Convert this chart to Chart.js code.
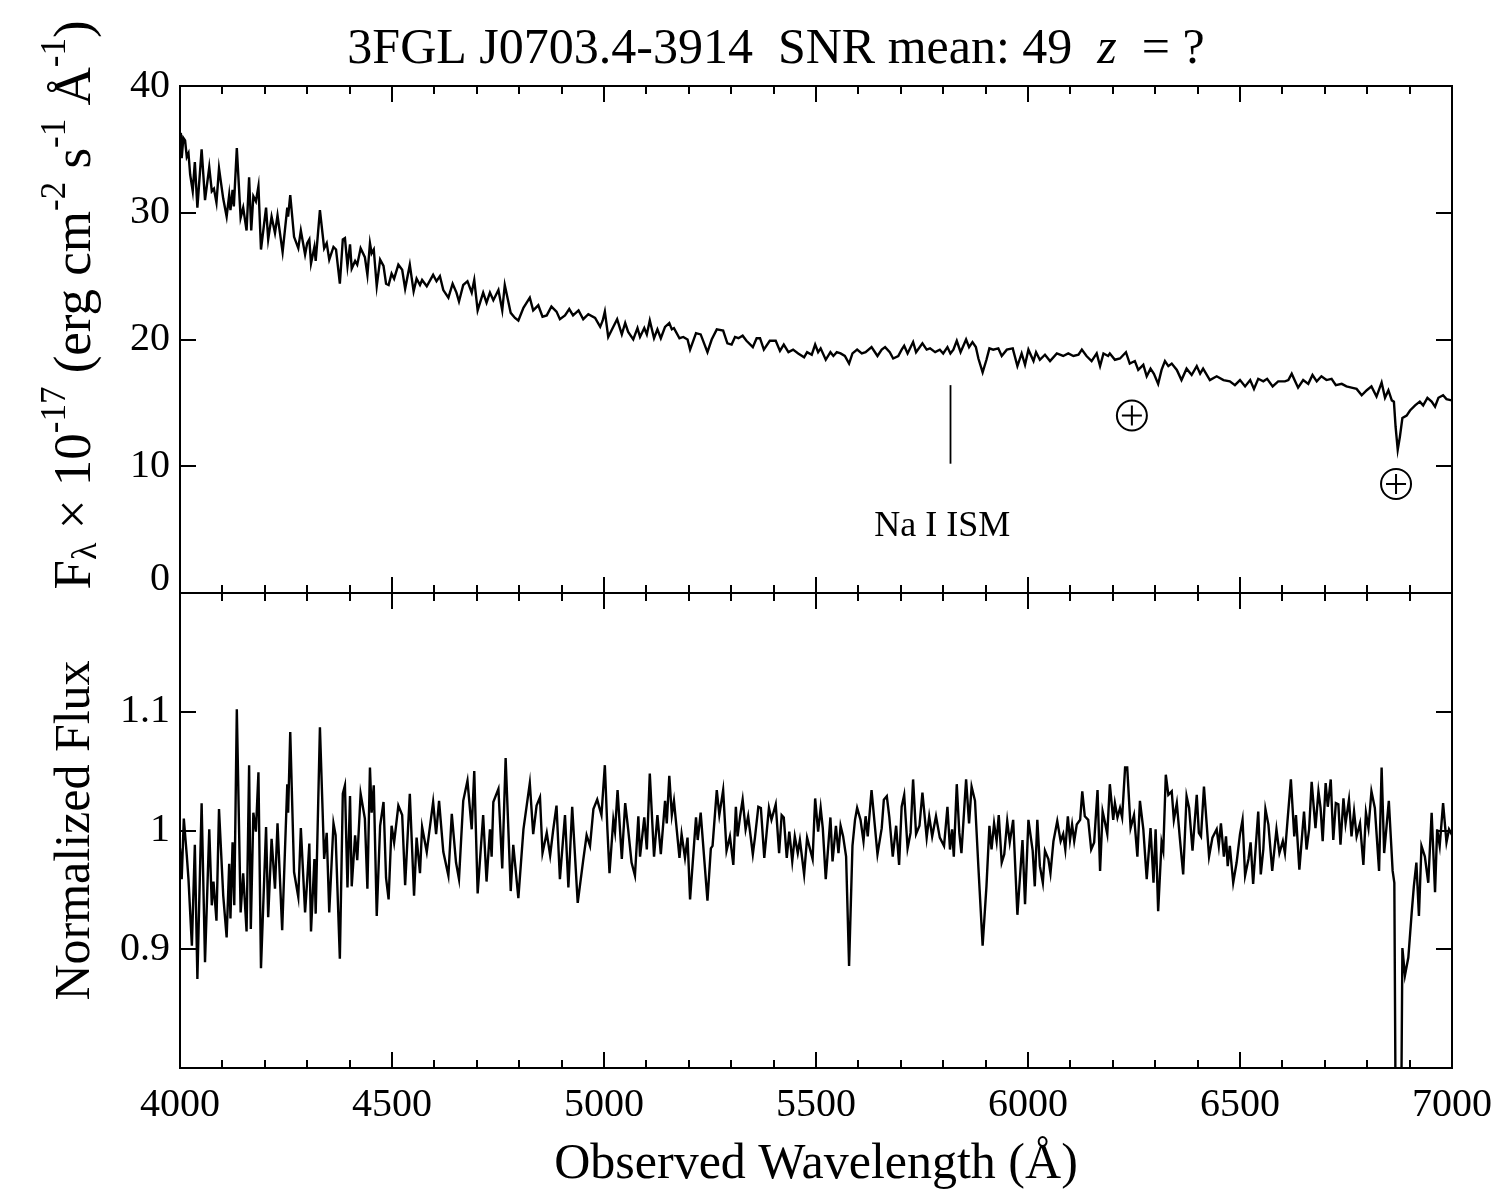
<!DOCTYPE html>
<html><head><meta charset="utf-8">
<script src="https://cdn.jsdelivr.net/npm/chart.js@4.4.0/dist/chart.umd.min.js"></script>
<style>
html,body{margin:0;padding:0;background:#fff;width:1500px;height:1200px;overflow:hidden;}
#cTop{position:absolute;left:0;top:0;}
#cBot{position:absolute;left:0;top:570px;}
</style></head><body>
<canvas id="cTop" width="1500" height="620"></canvas>
<canvas id="cBot" width="1500" height="630"></canvas>
<script>
// ---------- DATA ----------
const fluxWave = [4000,4002,4004,4008,4012,4016,4020,4024,4030,4035,4041,4051,4059,4069,4075,4080,4086,4092,4102,4110,4116,4119,4124,4127,4134,4143,4149,4157,4163,4168,4173,4179,4185,4191,4203,4208,4216,4224,4230,4242,4253,4255,4260,4269,4279,4285,4295,4300,4305,4309,4317,4320,4330,4340,4346,4352,4362,4368,4377,4384,4389,4395,4401,4405,4413,4418,4426,4436,4442,4448,4452,4457,4464,4472,4480,4486,4492,4499,4505,4515,4524,4531,4542,4551,4558,4566,4571,4582,4597,4605,4613,4621,4633,4643,4652,4658,4668,4678,4688,4694,4702,4715,4723,4731,4739,4751,4760,4766,4780,4790,4798,4810,4825,4833,4845,4855,4865,4876,4888,4896,4908,4918,4927,4940,4951,4963,4979,4991,4997,5002,5010,5022,5031,5042,5050,5057,5069,5079,5085,5095,5101,5108,5118,5126,5134,5144,5154,5160,5165,5178,5187,5197,5203,5217,5228,5244,5254,5266,5281,5291,5301,5309,5317,5327,5336,5351,5360,5368,5377,5391,5405,5415,5424,5435,5446,5458,5472,5479,5490,5498,5505,5511,5523,5534,5541,5549,5558,5568,5578,5586,5597,5608,5617,5631,5645,5655,5663,5674,5682,5694,5702,5708,5716,5729,5736,5751,5761,5769,5781,5792,5800,5810,5817,5824,5832,5841,5854,5861,5869,5877,5883,5893,5902,5909,5918,5930,5938,5950,5964,5975,5985,5993,6001,6013,6019,6028,6040,6052,6068,6083,6095,6107,6119,6127,6138,6150,6162,6170,6178,6189,6193,6205,6217,6231,6240,6252,6260,6272,6280,6289,6297,6307,6315,6323,6331,6339,6351,6362,6374,6386,6398,6406,6413,6429,6445,6461,6476,6488,6500,6512,6524,6533,6543,6555,6564,6577,6590,6606,6614,6622,6630,6637,6649,6661,6671,6681,6692,6704,6716,6726,6740,6751,6763,6775,6787,6799,6810,6822,6834,6842,6850,6858,6863,6867,6872,6877,6883,6893,6901,6913,6924,6932,6942,6952,6960,6968,6979,6987,6999,7000];
const fluxValue = [35.0,36.3,34.3,35.9,35.7,34.4,34.7,33.0,31.7,34.0,30.4,35.0,31.0,33.6,31.7,31.9,30.8,33.5,31.1,29.7,31.4,30.2,31.8,30.5,35.1,29.6,30.4,28.6,32.8,28.6,31.3,30.9,32.1,27.1,30.4,27.9,29.7,28.4,29.8,26.9,30.4,29.7,31.4,28.1,27.2,28.6,26.7,27.6,27.9,26.0,27.3,26.2,30.2,27.2,27.6,26.3,27.3,27.1,24.4,27.9,28.0,25.8,27.5,25.6,26.2,25.9,27.2,26.5,25.1,27.6,26.8,27.1,24.2,26.3,25.8,24.4,24.3,25.2,24.8,25.9,25.5,24.0,25.9,23.8,24.8,24.3,24.7,24.2,25.1,24.6,25.0,23.9,23.3,24.4,23.7,23.0,24.3,24.6,23.7,24.7,22.3,23.7,22.9,23.7,23.1,23.9,22.3,24.3,22.1,21.7,21.5,22.5,23.3,22.3,22.7,21.8,21.9,22.6,22.2,21.6,21.9,22.4,21.9,22.3,21.6,22.0,21.7,21.0,21.5,22.2,20.2,21.0,21.6,20.4,21.3,20.6,20.0,20.9,20.2,20.9,20.4,21.5,20.1,20.8,20.1,21.0,21.3,20.8,20.9,20.1,20.2,20.0,19.2,20.5,20.4,19.0,20.0,20.8,20.7,19.7,19.6,20.2,20.1,20.3,19.9,19.4,20.1,20.1,19.2,19.9,19.9,19.1,19.6,19.0,19.2,18.9,18.6,19.0,18.8,19.6,19.0,19.3,18.4,19.0,18.7,19.0,18.9,18.7,18.1,18.9,19.2,18.9,19.0,19.4,18.7,19.2,19.4,19.0,18.5,18.7,19.2,19.5,18.9,19.8,19.0,19.7,19.2,19.3,19.0,19.2,18.9,19.4,18.9,19.2,19.9,19.0,20.0,19.4,19.8,19.4,18.5,17.4,18.4,19.3,19.2,19.3,18.7,19.2,19.3,17.9,18.9,18.0,19.2,18.3,19.0,18.4,18.8,18.3,18.9,18.7,18.9,18.7,18.8,19.2,18.7,18.3,18.9,17.9,18.9,18.7,18.9,18.4,18.5,19.0,18.1,18.3,17.6,18.0,17.1,17.7,17.3,16.5,17.6,18.3,17.9,18.1,17.6,16.8,17.7,17.2,17.9,17.3,17.7,16.8,17.1,16.8,16.7,16.4,16.8,16.3,16.8,16.1,16.9,16.7,16.9,16.3,16.7,16.7,16.8,17.3,16.7,16.2,16.8,16.5,17.2,16.7,17.1,16.8,16.9,16.4,16.5,16.3,16.2,16.1,15.6,16.0,16.3,15.5,16.6,15.4,16.0,15.2,15.1,13.1,11.3,12.3,13.8,14.0,14.4,14.8,15.1,14.8,15.4,15.1,14.7,15.4,15.6,15.3,15.2,15.2];

const normWave = [4000,4004,4009,4016,4020,4028,4035,4041,4051,4059,4069,4075,4079,4086,4092,4102,4110,4116,4119,4124,4128,4134,4143,4149,4157,4163,4167,4173,4179,4185,4191,4203,4208,4216,4224,4230,4241,4253,4255,4260,4269,4279,4285,4295,4300,4305,4309,4317,4320,4330,4340,4346,4352,4362,4367,4377,4384,4389,4395,4401,4405,4413,4418,4426,4436,4442,4448,4452,4457,4464,4472,4480,4486,4492,4499,4505,4515,4524,4531,4542,4552,4558,4566,4571,4582,4588,4597,4604,4611,4621,4633,4641,4651,4658,4668,4678,4688,4694,4702,4715,4723,4731,4735,4739,4751,4760,4768,4780,4786,4798,4810,4825,4833,4841,4849,4855,4865,4873,4880,4888,4896,4908,4916,4925,4938,4951,4959,4967,4975,4984,4994,5002,5008,5013,5022,5026,5032,5042,5050,5057,5065,5073,5081,5085,5095,5101,5108,5118,5126,5134,5144,5148,5154,5160,5165,5178,5183,5191,5197,5203,5217,5221,5228,5244,5252,5256,5266,5272,5281,5289,5297,5305,5311,5315,5321,5327,5334,5340,5351,5356,5364,5370,5378,5389,5395,5405,5413,5419,5424,5431,5437,5444,5450,5457,5462,5472,5479,5492,5498,5505,5511,5516,5523,5534,5539,5547,5553,5558,5564,5571,5578,5586,5592,5597,5605,5612,5617,5622,5631,5645,5655,5660,5667,5673,5681,5689,5696,5702,5708,5716,5723,5729,5736,5744,5751,5761,5767,5774,5783,5792,5802,5810,5816,5821,5825,5832,5838,5843,5854,5861,5867,5875,5883,5893,5902,5909,5914,5920,5926,5931,5938,5944,5951,5957,5965,5975,5987,5993,6001,6011,6016,6022,6028,6035,6040,6048,6053,6060,6069,6077,6083,6088,6094,6099,6104,6109,6115,6123,6128,6134,6142,6149,6156,6164,6170,6176,6182,6187,6193,6201,6205,6211,6217,6222,6229,6234,6242,6250,6258,6264,6272,6280,6289,6296,6301,6307,6315,6319,6325,6331,6339,6344,6351,6358,6366,6374,6380,6388,6398,6403,6408,6415,6427,6435,6445,6450,6455,6462,6467,6471,6476,6484,6492,6500,6506,6512,6520,6525,6531,6543,6549,6555,6560,6567,6576,6586,6593,6601,6606,6612,6620,6628,6632,6640,6651,6657,6663,6669,6678,6685,6690,6695,6702,6707,6714,6720,6726,6732,6737,6744,6749,6757,6763,6769,6775,6783,6791,6797,6803,6810,6818,6828,6834,6840,6851,6860,6864,6868,6879,6883,6889,6897,6905,6910,6916,6922,6928,6936,6944,6952,6960,6965,6971,6979,6987,6993,6999,7000];
const normValue = [0.985,0.959,1.010,0.979,0.959,0.903,0.988,0.875,1.023,0.889,1.001,0.937,0.957,0.924,1.018,0.945,0.910,0.972,0.926,0.990,0.937,1.102,0.931,0.964,0.915,1.055,0.917,1.015,0.999,1.049,0.884,1.003,0.927,0.993,0.951,1.006,0.916,1.039,1.015,1.083,0.965,0.944,1.002,0.931,0.958,0.989,0.915,0.976,0.930,1.087,0.976,0.998,0.931,1.006,0.996,0.892,1.031,1.038,0.952,1.029,0.953,0.996,0.975,1.031,1.010,0.951,1.053,1.015,1.038,0.928,1.004,1.024,0.960,0.942,1.004,0.990,1.021,1.013,0.954,1.031,0.945,0.994,0.964,1.003,0.982,0.999,1.024,0.997,1.025,0.982,0.962,1.014,0.973,0.959,1.025,1.042,1.001,1.050,0.947,1.013,0.957,1.001,0.978,1.024,1.035,0.968,1.061,0.949,0.988,0.943,1.001,1.040,0.997,1.021,1.028,0.981,0.998,0.979,1.000,1.021,0.959,1.013,0.952,1.020,0.939,0.975,0.996,0.987,1.018,1.026,1.013,1.055,1.001,0.964,1.009,0.999,1.034,0.976,1.023,1.001,0.973,0.962,1.012,0.978,1.011,0.984,1.048,0.978,1.013,0.980,1.025,1.006,1.046,1.013,1.025,0.977,0.997,0.977,0.994,0.942,1.011,0.992,1.015,0.941,0.985,0.987,1.034,1.013,1.034,0.983,0.995,0.971,1.020,0.995,1.012,1.026,1.001,1.012,0.980,0.994,1.020,1.019,0.977,1.019,1.009,1.022,0.981,1.013,1.011,0.977,0.999,0.974,0.995,0.981,0.992,0.963,0.994,0.976,1.027,0.999,1.019,1.002,0.959,1.011,0.974,1.004,0.981,1.004,0.995,0.978,0.886,0.987,1.009,1.019,1.009,0.991,1.012,0.995,1.034,0.980,1.002,1.026,1.029,1.011,0.978,1.004,0.971,1.020,1.030,0.985,0.998,1.043,0.997,1.004,1.032,0.994,1.012,0.995,1.012,0.994,0.987,1.020,0.984,1.001,0.978,1.039,0.998,0.981,1.043,1.006,1.037,1.025,0.969,0.903,0.953,1.004,0.984,1.006,0.991,1.013,0.973,0.980,1.008,0.990,1.009,0.929,0.992,0.938,1.009,0.983,0.953,1.009,0.970,0.956,0.983,0.976,0.964,0.991,1.008,0.991,0.997,0.984,1.012,0.992,1.005,0.991,1.005,1.009,1.033,1.012,1.009,0.984,0.990,1.034,0.966,1.016,1.006,0.997,1.039,1.009,1.023,1.011,1.019,1.011,1.053,1.053,1.002,1.013,0.978,1.025,1.001,0.959,1.002,0.956,1.001,0.932,0.990,0.983,1.047,1.030,1.033,1.009,1.023,0.994,0.963,1.029,1.019,0.983,1.030,0.998,0.995,1.037,0.978,0.994,1.001,0.987,1.006,0.978,0.995,0.970,0.987,0.956,0.973,0.997,1.009,0.962,0.976,0.990,0.955,1.016,0.963,0.984,1.018,1.005,0.966,1.001,0.981,0.991,0.981,1.008,1.043,0.995,1.013,0.967,1.016,0.984,1.001,1.041,1.002,1.033,1.019,0.991,1.040,1.020,1.043,0.992,1.023,1.022,0.988,1.027,1.006,1.026,0.995,1.016,0.995,1.006,0.971,1.015,1.002,1.033,1.019,0.966,1.053,0.981,1.025,0.966,0.956,0.700,0.700,0.901,0.878,0.893,0.931,0.953,0.973,0.928,0.987,0.978,0.956,1.015,0.948,1.001,0.987,1.023,0.990,1.001,0.997,1.000];

const xTicks = [4000,4500,5000,5500,6000,6500,7000];
const xTickLabels = ['4000','4500','5000','5500','6000','6500','7000'];
const fluxTicks = [0,10,20,30,40];
const fluxTickLabels = ['0','10','20','30','40'];
const normTicks = [0.9,1.0,1.1];
const normTickLabels = ['0.9','1','1.1'];
const naMarker = {wave:5816, from:10.2, to:16.4, label:'Na I ISM', labelWave:5798, labelFlux:4.5};
const tellurics = [{wave:6245, flux:14.0},{wave:6868, flux:8.6}];
const titleParts = [
  {text:'3FGL J0703.4-3914  SNR mean: 49  ', italic:false},
  {text:'z', italic:true},
  {text:'  = ?', italic:false}
];
const xTitle = 'Observed Wavelength (Å)';
const normTitle = 'Normalized Flux';
const fluxTitleParts = [
  {t:'F', s:'main'}, {t:'λ', s:'sub'}, {t:' × 10', s:'main'}, {t:'-17', s:'sup'},
  {t:' (erg cm', s:'main'}, {t:'-2', s:'sup'}, {t:' s', s:'main'}, {t:'-1', s:'sup'},
  {t:' Å', s:'main'}, {t:'-1', s:'sup'}, {t:')', s:'main'}
];

// ---------- STYLE ----------
const FONT = '"Liberation Serif", "Times New Roman", serif';
const TICK_SIZE = 40;
const TITLE_SIZE = 50;
const AXIS_TITLE_SIZE = 50;
const LINE_W = 2.4;

function drawFrameAndTicks(chart, yTickValues) {
  const {ctx, chartArea: a, scales} = chart;
  const xs = scales.x, ys = scales.y;
  ctx.save();
  ctx.strokeStyle = '#000';
  ctx.lineWidth = 2;
  ctx.strokeRect(a.left, a.top, a.right - a.left, a.bottom - a.top);
  ctx.beginPath();
  for (let w = 4100; w < 7000; w += 100) {
    const px = Math.round(xs.getPixelForValue(w));
    const L = (w % 500 === 0) ? 16 : 8;
    ctx.moveTo(px, a.top); ctx.lineTo(px, a.top + L);
    ctx.moveTo(px, a.bottom); ctx.lineTo(px, a.bottom - L);
  }
  for (const v of yTickValues) {
    const py = Math.round(ys.getPixelForValue(v));
    if (py <= a.top + 1 || py >= a.bottom - 1) continue;
    ctx.moveTo(a.left, py); ctx.lineTo(a.left + 16, py);
    ctx.moveTo(a.right, py); ctx.lineTo(a.right - 16, py);
  }
  ctx.stroke();
  ctx.restore();
}

const topPlugin = {
  id: 'topDecor',
  afterDraw(chart) {
    const {ctx, scales} = chart;
    const xs = scales.x, ys = scales.y;
    drawFrameAndTicks(chart, fluxTicks);
    ctx.save();
    ctx.fillStyle = '#000'; ctx.strokeStyle = '#000';
    // Na I marker
    const nx = Math.round(xs.getPixelForValue(naMarker.wave)) + 0.5;
    ctx.lineWidth = 1.8;
    ctx.beginPath();
    ctx.moveTo(nx, ys.getPixelForValue(naMarker.to));
    ctx.lineTo(nx, ys.getPixelForValue(naMarker.from));
    ctx.stroke();
    ctx.font = '36px ' + FONT;
    ctx.textAlign = 'center'; ctx.textBaseline = 'alphabetic';
    ctx.fillText(naMarker.label, xs.getPixelForValue(naMarker.labelWave), ys.getPixelForValue(naMarker.labelFlux));
    // telluric symbols
    ctx.lineWidth = 2;
    for (const t of tellurics) {
      const cx = xs.getPixelForValue(t.wave), cy = ys.getPixelForValue(t.flux);
      ctx.beginPath(); ctx.arc(cx, cy, 15, 0, Math.PI * 2); ctx.stroke();
      ctx.beginPath();
      ctx.moveTo(cx - 10, cy); ctx.lineTo(cx + 10, cy);
      ctx.moveTo(cx, cy - 10); ctx.lineTo(cx, cy + 10);
      ctx.stroke();
    }
    // title
    ctx.textAlign = 'left'; ctx.textBaseline = 'alphabetic';
    let total = 0;
    for (const p of titleParts) {
      ctx.font = (p.italic ? 'italic ' : '') + TITLE_SIZE + 'px ' + FONT;
      total += ctx.measureText(p.text).width;
    }
    let x = 776 - total / 2;
    for (const p of titleParts) {
      ctx.font = (p.italic ? 'italic ' : '') + TITLE_SIZE + 'px ' + FONT;
      ctx.fillText(p.text, x, 63);
      x += ctx.measureText(p.text).width;
    }
    // y axis title (rotated, with super/subscripts)
    const sizes = {main: 53, sub: 36, sup: 35};
    const rises = {main: 0, sub: -6, sup: 25};
    let len = 0;
    for (const p of fluxTitleParts) { ctx.font = sizes[p.s] + 'px ' + FONT; len += ctx.measureText(p.t).width; }
    ctx.translate(90, 305 + len / 2);
    ctx.rotate(-Math.PI / 2);
    let tx = 0;
    for (const p of fluxTitleParts) {
      ctx.font = sizes[p.s] + 'px ' + FONT;
      ctx.fillText(p.t, tx, -rises[p.s]);
      tx += ctx.measureText(p.t).width;
    }
    ctx.restore();
  }
};

const botPlugin = {
  id: 'botDecor',
  afterDraw(chart) {
    const {ctx, chartArea: a} = chart;
    drawFrameAndTicks(chart, normTicks);
    ctx.save();
    ctx.fillStyle = '#000';
    ctx.font = AXIS_TITLE_SIZE + 'px ' + FONT;
    ctx.textAlign = 'center'; ctx.textBaseline = 'alphabetic';
    ctx.translate(89, (a.top + a.bottom) / 2);
    ctx.rotate(-Math.PI / 2);
    ctx.fillText(normTitle, 0, 0);
    ctx.restore();
  }
};

function noPad(s) { s.paddingLeft = 0; s.paddingRight = 0; s.paddingTop = 0; s.paddingBottom = 0; }

const xScaleBase = {
  type: 'linear', min: 4000, max: 7000,
  grid: {display: false, drawTicks: false}, border: {display: false},
  afterBuildTicks: s => { s.ticks = xTicks.map(v => ({value: v})); }
};

new Chart(document.getElementById('cTop'), {
  type: 'line',
  data: {datasets: [{
    data: fluxWave.map((w, i) => ({x: w, y: fluxValue[i]})),
    borderColor: '#000', borderWidth: LINE_W, pointRadius: 0, tension: 0, fill: false
  }]},
  options: {
    responsive: false, animation: false, events: [],
    layout: {padding: {top: 86, right: 48, bottom: 27, left: 0}},
    plugins: {legend: {display: false}, tooltip: {enabled: false}, title: {display: false}},
    scales: {
      x: Object.assign({}, xScaleBase, {display: false}),
      y: {
        type: 'linear', min: 0, max: 40,
        grid: {display: false, drawTicks: false}, border: {display: false},
        afterBuildTicks: s => { s.ticks = fluxTicks.map(v => ({value: v})); },
        afterFit: s => { s.width = 180; noPad(s); },
        ticks: {
          padding: 10, color: '#000',
          font: {family: FONT, size: TICK_SIZE, lineHeight: 0.7},
          callback: v => { const l = fluxTickLabels[fluxTicks.indexOf(v)]; return v === 0 ? [l, ''] : l; }
        }
      }
    }
  },
  plugins: [topPlugin]
});

new Chart(document.getElementById('cBot'), {
  type: 'line',
  data: {datasets: [{
    data: normWave.map((w, i) => ({x: w, y: normValue[i]})),
    borderColor: '#000', borderWidth: LINE_W, pointRadius: 0, tension: 0, fill: false
  }]},
  options: {
    responsive: false, animation: false, events: [],
    layout: {padding: {top: 23, right: 48, bottom: 0, left: 0}},
    plugins: {legend: {display: false}, tooltip: {enabled: false}, title: {display: false}},
    scales: {
      x: Object.assign({}, xScaleBase, {
        afterFit: s => { s.height = 132; noPad(s); },
        ticks: {
          padding: 13, color: '#000', maxRotation: 0, autoSkip: false,
          font: {family: FONT, size: TICK_SIZE},
          callback: v => xTickLabels[xTicks.indexOf(v)]
        },
        title: {display: true, text: xTitle, color: '#000', font: {family: FONT, size: AXIS_TITLE_SIZE}, padding: {top: 0, bottom: 5}}
      }),
      y: {
        type: 'linear', min: 0.8, max: 1.2,
        grid: {display: false, drawTicks: false}, border: {display: false},
        afterBuildTicks: s => { s.ticks = normTicks.map(v => ({value: v})); },
        afterFit: s => { s.width = 180; noPad(s); },
        ticks: {
          padding: 10, color: '#000',
          font: {family: FONT, size: TICK_SIZE},
          callback: v => normTickLabels[normTicks.indexOf(v)]
        }
      }
    }
  },
  plugins: [botPlugin]
});
</script>
</body></html>
